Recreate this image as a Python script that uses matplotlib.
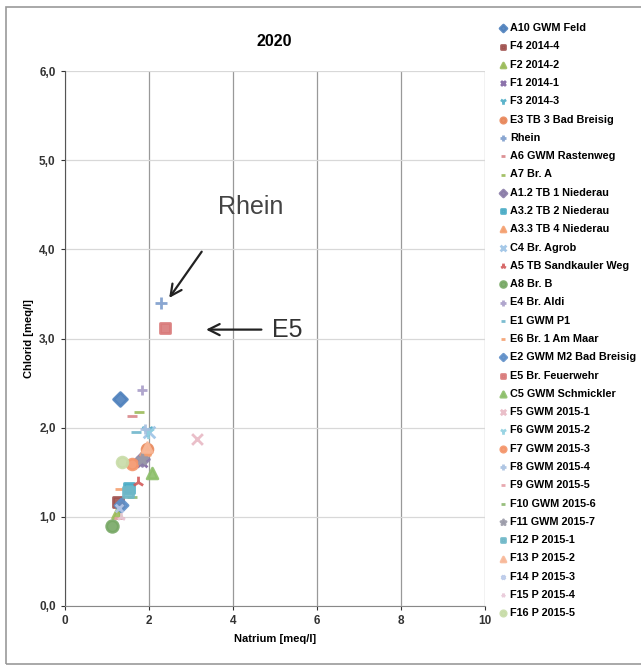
import matplotlib.pyplot as plt
from matplotlib.patches import Rectangle
from matplotlib.ticker import FuncFormatter

plt.rcParams['font.family'] = ['Liberation Sans', 'DejaVu Sans']

# Natrium / Chlorid pro Messstelle (meq/l)
labels = ['A10 GWM Feld', 'F4 2014-4', 'F2 2014-2', 'F1 2014-1', 'F3 2014-3',
          'E3 TB 3 Bad Breisig', 'Rhein', 'A6 GWM Rastenweg', 'A7 Br. A',
          'A1.2 TB 1 Niederau', 'A3.2 TB 2 Niederau', 'A3.3 TB 4 Niederau',
          'C4 Br. Agrob', 'A5 TB Sandkauler Weg', 'A8 Br. B', 'E4 Br. Aldi',
          'E1 GWM P1', 'E6 Br. 1 Am Maar', 'E2 GWM M2 Bad Breisig',
          'E5 Br. Feuerwehr', 'C5 GWM Schmickler', 'F5 GWM 2015-1',
          'F6 GWM 2015-2', 'F7 GWM 2015-3', 'F8 GWM 2015-4', 'F9 GWM 2015-5',
          'F10 GWM 2015-6', 'F11 GWM 2015-7', 'F12 P 2015-1', 'F13 P 2015-2',
          'F14 P 2015-3', 'F15 P 2015-4', 'F16 P 2015-5']
natrium = [1.32, 1.28, 1.25, 1.85, 1.96, 1.96, 2.29, 1.61, 1.77, 1.85, 1.54,
           1.90, 2.00, 1.75, 1.13, 1.85, 1.70, 1.32, 1.35, 2.39, 2.08, 3.14,
           1.98, 1.61, 1.90, 1.30, 1.61, 1.85, 1.50, 1.95, 1.30, 1.35, 1.37]
chlorid = [2.32, 1.17, 1.04, 1.62, 1.97, 1.76, 3.40, 2.13, 2.17, 1.65, 1.32,
           1.75, 1.95, 1.39, 0.90, 2.42, 1.95, 1.31, 1.13, 3.12, 1.49, 1.87,
           1.95, 1.59, 1.98, 0.99, 1.22, 1.65, 1.28, 1.78, 1.10, 1.00, 1.61]

markers = ['D', 's', '^', 'x', '1', 'o', '+', '_', '_', 'D', 's', '^', 'x',
           '2', 'o', '+', '_', '_', 'D', 's', '^', 'x', '1', 'o', '+', '_',
           '_', '*', 's', '^', 'x', '2', 'o']
colors = ['#4f81bd', '#a0524f', '#9bbb59', '#8064a2', '#4bacc6', '#e8875a',
          '#7d9dcc', '#d9868a', '#9bbb59', '#8a7ca8', '#4bacc6', '#f4a070',
          '#9dc3e6', '#d35a5a', '#77a865', '#a89cc8', '#6fb6cc', '#f4a070',
          '#5f8fc8', '#d97a7a', '#8dbf6a', '#e8b8c4', '#8fd0e0', '#f4956a',
          '#a8c0e0', '#e6a0a8', '#8db870', '#9a9aa8', '#6fb8c8', '#f8b898',
          '#b8c8e8', '#e8c8d8', '#c8dca8']
sizes = [50, 50, 50, 50, 90, 60, 70, 50, 50, 50, 50, 50, 70, 70, 70, 60, 50,
         50, 45, 50, 60, 60, 90, 60, 60, 50, 50, 60, 50, 50, 30, 40, 60]

fig = plt.figure(figsize=(6.41, 6.71), dpi=100)
ax = fig.add_axes([0.101, 0.097, 0.655, 0.797])

for lab, x, y, m, c, s in zip(labels, natrium, chlorid, markers, colors, sizes):
    ax.scatter(x, y, marker=m, color=c, s=s, linewidths=2, label=lab, alpha=0.9)

ax.set_xlim(0, 10)
ax.set_ylim(0, 6)
ax.set_xticks([0, 2, 4, 6, 8, 10])
ax.set_yticks([0, 1, 2, 3, 4, 5, 6])
ax.yaxis.set_major_formatter(FuncFormatter(lambda v, p: f'{v:.1f}'.replace('.', ',')))
ax.xaxis.grid(True, color='#999999', linewidth=0.9)
ax.yaxis.grid(True, color='#d8d8d8', linewidth=0.9)
ax.set_axisbelow(True)
for side in ['top', 'right']:
    ax.spines[side].set_visible(False)
ax.spines['left'].set_color('#555555')
ax.spines['bottom'].set_color('#888888')
ax.tick_params(labelsize=8.5, length=3, colors='#333333')
for t in ax.get_xticklabels() + ax.get_yticklabels():
    t.set_fontweight('bold')

ax.set_title('2020', fontsize=11.5, fontweight='bold', pad=18)
ax.set_xlabel('Natrium [meq/l]', fontsize=8, fontweight='bold', labelpad=5)
ax.set_ylabel('Chlorid [meq/l]', fontsize=8, fontweight='bold', labelpad=4)

# Hinweise auf Rhein und E5
ax.text(4.42, 4.48, 'Rhein', fontsize=18, color='#444444', ha='center', va='center')
ax.annotate('', xy=(2.45, 3.43), xytext=(3.3, 4.0),
            arrowprops=dict(arrowstyle='->', color='#222222', lw=1.6, mutation_scale=20))
ax.text(5.3, 3.1, 'E5', fontsize=18, color='#333333', ha='center', va='center')
ax.annotate('', xy=(3.3, 3.1), xytext=(4.75, 3.1),
            arrowprops=dict(arrowstyle='->', color='#222222', lw=1.6, mutation_scale=20))

ax.legend(loc='upper left', bbox_to_anchor=(0.77, 0.972), bbox_transform=fig.transFigure,
          frameon=False, handletextpad=0.15, labelspacing=0.765,
          handlelength=1.0, markerscale=0.5, borderaxespad=0,
          prop={'size': 7.8, 'weight': 'bold'})

fig.patches.append(Rectangle((0.009, 0.01), 1.2, 0.979, transform=fig.transFigure,
                             fill=False, edgecolor='#999999', linewidth=1.2))

fig.savefig('out.png', dpi=100)
